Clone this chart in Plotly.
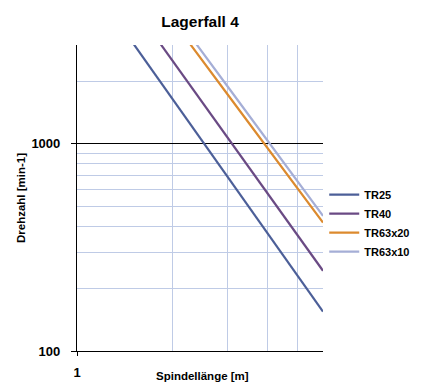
import plotly.graph_objects as go

lengths = [1.5, 2, 3, 4, 5, 6]
tr25 = [3078, 1656, 691, 372, 230, 155]
tr40 = [4673, 2533, 1067, 579, 360, 244]
tr63x20 = [7900, 3966, 1726, 957, 606, 417]
tr63x10 = [8900, 4363, 1886, 1039, 655, 449]

series = [
    ("TR25", tr25, "#4c5f98"),
    ("TR40", tr40, "#6a4a84"),
    ("TR63x20", tr63x20, "#dc8a2e"),
    ("TR63x10", tr63x10, "#a5aed6"),
]

grid = "#bfcbe6"
fnt = "Liberation Sans, Arial, sans-serif"

fig = go.Figure()
for name, vals, col in series:
    fig.add_trace(go.Scatter(x=lengths, y=vals, mode="lines", name=name,
                             line=dict(color=col, width=2.2)))

fig.update_layout(
    width=422, height=383,
    margin=dict(l=77, r=99, t=45, b=32, autoexpand=False),
    paper_bgcolor="white", plot_bgcolor="white",
    font=dict(family=fnt, color="black"),
    title=dict(text="<b>Lagerfall 4</b>", x=(77 + 123) / 422, xanchor="center",
               y=1 - 22 / 383, yanchor="middle", font=dict(size=15.5)),
    showlegend=True,
    legend=dict(x=1.005, xanchor="left", y=0.418, yanchor="middle",
                font=dict(size=11, weight="bold"), tracegroupgap=0, itemwidth=30,
                bgcolor="rgba(0,0,0,0)"),
    xaxis=dict(type="log", range=[0, 0.77815], tickvals=[1], ticktext=["1"],
               showgrid=False, zeroline=False, automargin=False,
               showline=True, linecolor="black", linewidth=1.2,
               ticks="outside", ticklen=4, tickcolor="black",
               ticklabelstandoff=5, tickfont=dict(size=13, weight="bold"),
               minor=dict(tickvals=[2, 3, 4, 5, 6], showgrid=True, gridcolor=grid, gridwidth=1, ticks="")),
    yaxis=dict(type="log", range=[2, 3.4771], tickvals=[100, 1000],
               ticktext=["100", "1000"],
               showgrid=True, gridcolor="black", gridwidth=1, automargin=False,
               zeroline=False, showline=True, linecolor="black", linewidth=1.2,
               ticks="outside", ticklen=5, tickcolor="black",
               ticklabelstandoff=8, tickfont=dict(size=13, weight="bold"),
               minor=dict(tickvals=[200, 300, 400, 500, 600, 700, 800, 900, 2000, 3000],
                          showgrid=True, gridcolor=grid, gridwidth=1, ticks="")),
)

fig.add_annotation(text="<b>Spindellänge [m]</b>", xref="paper", yref="paper",
                   x=(202 - 77) / 246, y=-(376 - 351) / 306, xanchor="center", yanchor="middle",
                   showarrow=False, font=dict(size=11.5))
fig.add_annotation(text="<b>Drehzahl [min-1]</b>", xref="paper", yref="paper",
                   x=-(77 - 21) / 246, y=0.5, xanchor="center", yanchor="middle",
                   textangle=-90, showarrow=False, font=dict(size=11.5))

fig.write_html("out.html", config={"displayModeBar": False},
               post_script="document.body.style.margin='0';")
